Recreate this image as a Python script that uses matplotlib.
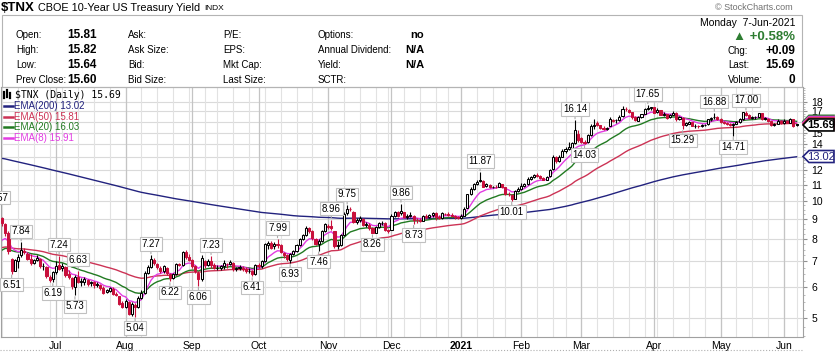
import matplotlib
matplotlib.use("Agg")
import matplotlib.pyplot as plt
import matplotlib.transforms as mtrans
from matplotlib.patches import Polygon, Rectangle
from matplotlib.lines import Line2D
import numpy as np
import pandas as pd

plt.rcParams['font.family'] = ['Liberation Sans', 'DejaVu Sans']

# ---- data: $TNX daily candles, 5-Jun-2020 .. 7-Jun-2021 ----
holidays = ['2020-07-03', '2020-09-07', '2020-11-26', '2020-12-25', '2021-01-01',
            '2021-01-18', '2021-02-15', '2021-04-02', '2021-05-31']
dates = pd.bdate_range('2020-06-05', '2021-06-07', freq='C', holidays=holidays)

opens = [
    8.60, 9.05, 8.75, 8.30, 7.10, 6.62, 7.00, 7.25, 7.45, 7.30, 7.10, 6.95, 7.05, 7.10, 6.80, 6.78, 6.40, 6.30,  # Jun
    6.57, 6.85, 6.72, 6.78, 6.50, 6.35, 6.00, 6.40, 6.20, 6.20, 6.28, 6.15, 6.18, 6.10, 6.08, 5.98, 5.85, 5.88, 5.96, 5.78, 5.70, 5.48,  # Jul
    5.35, 5.52, 5.12, 5.42, 5.35, 5.65, 5.80, 6.55, 6.78, 7.08, 6.90, 6.75, 6.60, 6.75, 6.50, 6.35, 6.48, 6.88, 6.85, 7.40, 7.20,  # Aug
    7.05, 6.80, 6.55, 6.30, 7.00, 6.85, 7.00, 6.85, 6.72, 6.75, 6.80, 6.90, 6.88, 6.95, 6.70, 6.72, 6.75, 6.70, 6.60, 6.60, 6.50,  # Sep
    6.85, 6.80, 7.00, 7.70, 7.82, 7.65, 7.75, 7.70, 7.35, 7.25, 7.05, 7.30, 7.45, 7.70, 8.00, 8.18, 8.55, 8.40, 8.00, 7.78, 7.90, 8.40,  # Oct
    8.65, 8.62, 8.40, 7.65, 7.70, 8.20, 9.30, 9.55, 9.40, 8.85, 8.95, 9.00, 8.70, 8.70, 8.55, 8.30, 8.60, 8.78, 8.80, 8.45,  # Nov
    8.45, 9.15, 9.35, 9.30, 9.35, 9.10, 9.18, 9.15, 8.95, 8.92, 8.90, 9.15, 9.10, 9.20, 9.30, 9.10, 9.05, 9.28, 9.25, 9.20, 9.18, 9.08,  # Dec
    9.05, 9.18, 9.60, 10.40, 10.75, 11.05, 11.35, 11.25, 10.95, 11.00, 10.85, 10.90, 10.88, 11.05, 10.85, 10.45, 10.38, 10.15, 10.62,  # Jan
    10.75, 10.95, 11.05, 11.40, 11.52, 11.65, 11.60, 11.45, 11.35, 11.60, 12.10, 13.00, 12.70, 13.00, 13.45, 13.65, 13.70, 14.10, 14.90,  # Feb
    14.50, 14.15, 14.15, 14.75, 15.60, 15.90, 15.65, 15.40, 15.30, 15.60, 16.10, 16.15, 16.20, 16.50, 17.25, 17.15, 16.90, 16.40, 16.10, 16.40, 16.75, 17.25, 17.30,  # Mar
    17.40, 16.90, 17.10, 16.65, 16.70, 16.40, 16.65, 16.85, 16.25, 16.35, 15.70, 15.80, 15.95, 15.60, 15.60, 15.55, 15.65, 15.75, 16.25, 16.40, 16.45,  # Apr
    16.30, 15.95, 15.90, 15.75, 15.70, 15.80, 15.95, 16.25, 16.85, 16.60, 16.35, 16.40, 16.45, 16.80, 16.30, 16.30, 16.05, 15.65, 15.80, 16.10,  # May
    15.85, 16.10, 15.90, 16.25, 15.81,  # Jun
]
highs = [
    9.57, 9.10, 8.80, 8.40, 7.15, 7.10, 7.30, 7.84, 7.60, 7.40, 7.30, 7.12, 7.25, 7.15, 6.92, 6.80, 6.45, 6.62,
    7.00, 7.24, 6.95, 6.80, 6.65, 6.40, 6.45, 6.63, 6.35, 6.40, 6.32, 6.25, 6.22, 6.20, 6.12, 6.05, 5.95, 6.02, 6.00, 5.85, 5.72, 5.55,
    5.62, 5.55, 5.50, 5.48, 5.70, 5.90, 6.60, 6.85, 7.27, 7.15, 6.95, 6.80, 6.85, 6.78, 6.55, 6.55, 6.95, 6.95, 7.45, 7.50, 7.30,
    7.10, 6.85, 6.60, 7.25, 7.05, 7.10, 7.23, 6.95, 6.85, 6.85, 7.05, 6.95, 7.05, 6.98, 6.78, 6.85, 6.82, 6.78, 6.72, 6.65, 6.90,
    6.95, 7.05, 7.80, 7.90, 7.92, 7.85, 7.99, 7.75, 7.40, 7.30, 7.35, 7.50, 7.75, 8.05, 8.25, 8.65, 8.60, 8.45, 8.05, 8.00, 8.45, 8.80,
    8.75, 8.96, 8.40, 7.90, 8.25, 9.35, 9.75, 9.65, 9.45, 9.05, 9.15, 9.05, 8.85, 8.78, 8.60, 8.65, 8.85, 8.90, 8.82, 8.50,
    9.25, 9.45, 9.45, 9.86, 9.38, 9.28, 9.35, 9.20, 9.05, 9.05, 9.20, 9.25, 9.25, 9.35, 9.40, 9.20, 9.35, 9.32, 9.35, 9.30, 9.22, 9.15,
    9.25, 9.65, 10.45, 10.85, 11.10, 11.35, 11.87, 11.30, 11.15, 11.05, 10.95, 10.98, 11.20, 11.08, 10.90, 10.55, 10.45, 10.70, 10.90,
    11.10, 11.15, 11.50, 11.60, 11.75, 11.80, 11.70, 11.55, 11.60, 12.10, 13.10, 13.05, 13.10, 13.60, 13.80, 14.20, 14.20, 16.14, 15.25,
    14.65, 14.35, 14.85, 15.75, 16.25, 16.05, 15.70, 15.55, 15.50, 16.40, 16.25, 16.30, 16.60, 17.55, 17.45, 17.20, 16.95, 16.50, 16.55, 16.75, 17.35, 17.65, 17.50,
    17.45, 17.30, 17.15, 16.95, 16.75, 16.75, 17.05, 16.90, 16.55, 16.40, 15.95, 16.10, 16.00, 15.75, 15.70, 15.75, 15.80, 16.30, 16.45, 16.88, 16.55,
    16.35, 16.05, 15.95, 15.85, 15.85, 16.05, 16.35, 16.95, 17.00, 16.70, 16.50, 16.55, 16.85, 16.85, 16.40, 16.35, 16.10, 15.85, 16.25, 16.20,
    16.30, 16.15, 16.35, 16.30, 15.82,
]
lows = [
    8.55, 8.62, 8.15, 7.30, 6.51, 6.60, 6.75, 7.20, 7.30, 7.05, 6.85, 6.88, 7.00, 6.75, 6.65, 6.35, 6.20, 6.19,
    6.50, 6.65, 6.62, 6.38, 6.30, 5.95, 5.73, 6.15, 6.05, 6.10, 6.05, 6.05, 5.98, 6.00, 5.90, 5.78, 5.80, 5.85, 5.75, 5.70, 5.40, 5.30,
    5.30, 5.10, 5.08, 5.04, 5.30, 5.60, 5.78, 6.50, 6.75, 6.85, 6.70, 6.55, 6.55, 6.45, 6.22, 6.30, 6.45, 6.80, 6.80, 7.10, 7.00,
    6.75, 6.55, 6.06, 6.25, 6.75, 6.80, 6.75, 6.70, 6.65, 6.65, 6.70, 6.75, 6.85, 6.60, 6.60, 6.65, 6.60, 6.55, 6.55, 6.41, 6.45,
    6.75, 6.75, 6.98, 7.55, 7.55, 7.55, 7.60, 7.35, 7.15, 7.00, 6.93, 7.25, 7.40, 7.65, 7.95, 8.15, 8.30, 7.95, 7.70, 7.46, 7.85, 8.35,
    8.50, 8.45, 7.60, 7.55, 7.65, 8.15, 9.20, 9.45, 8.80, 8.75, 8.85, 8.65, 8.60, 8.45, 8.26, 8.28, 8.55, 8.70, 8.40, 8.30,
    8.42, 9.10, 9.10, 9.20, 9.05, 9.02, 9.10, 8.73, 8.80, 8.85, 8.88, 9.00, 9.05, 9.10, 8.95, 9.00, 9.00, 9.22, 9.15, 9.10, 9.02, 8.98,
    9.00, 9.15, 9.58, 10.35, 10.70, 11.00, 11.20, 10.85, 10.85, 10.80, 10.80, 10.78, 10.85, 10.80, 10.35, 10.30, 10.01, 10.10, 10.55,
    10.70, 10.90, 11.00, 11.35, 11.45, 11.50, 11.40, 11.30, 11.30, 11.55, 12.05, 12.55, 12.60, 12.95, 13.30, 13.50, 13.40, 14.00, 14.20,
    14.10, 14.03, 14.10, 14.70, 15.30, 15.55, 15.30, 15.25, 15.25, 15.55, 15.95, 15.90, 16.05, 16.45, 17.05, 16.80, 16.30, 16.10, 16.05, 16.35, 16.70, 17.10, 17.10,
    16.80, 16.85, 16.60, 16.50, 16.25, 16.35, 16.60, 16.10, 16.20, 15.29, 15.60, 15.75, 15.55, 15.45, 15.45, 15.50, 15.55, 15.70, 16.05, 16.30, 16.20,
    15.90, 15.80, 15.70, 15.60, 14.71, 15.75, 15.90, 16.20, 16.55, 16.30, 16.30, 16.30, 16.40, 16.20, 16.20, 15.95, 15.60, 15.60, 15.75, 15.80,
    15.80, 15.85, 15.85, 15.50, 15.64,
]
closes = [
    9.05, 8.80, 8.27, 7.43, 6.62, 7.05, 7.18, 7.50, 7.38, 7.09, 6.95, 7.06, 7.15, 6.81, 6.81, 6.41, 6.28, 6.56,
    6.80, 6.70, 6.82, 6.45, 6.40, 6.05, 6.40, 6.20, 6.22, 6.30, 6.12, 6.20, 6.08, 6.10, 5.98, 5.82, 5.90, 5.98, 5.78, 5.75, 5.45, 5.35,
    5.55, 5.12, 5.45, 5.35, 5.65, 5.80, 6.55, 6.78, 7.10, 6.92, 6.78, 6.60, 6.80, 6.52, 6.35, 6.48, 6.88, 6.85, 7.40, 7.20, 7.05,
    6.80, 6.60, 6.30, 7.15, 6.85, 7.00, 6.85, 6.72, 6.75, 6.80, 6.95, 6.88, 6.98, 6.70, 6.72, 6.78, 6.70, 6.60, 6.62, 6.48, 6.85,
    6.80, 7.00, 7.75, 7.82, 7.60, 7.75, 7.72, 7.40, 7.25, 7.10, 7.30, 7.45, 7.70, 8.00, 8.18, 8.55, 8.40, 8.02, 7.78, 7.90, 8.40, 8.75,
    8.60, 8.55, 7.65, 7.70, 8.18, 9.25, 9.55, 9.52, 8.85, 8.95, 9.05, 8.70, 8.72, 8.55, 8.30, 8.60, 8.78, 8.80, 8.45, 8.40,
    9.18, 9.38, 9.15, 9.42, 9.10, 9.18, 9.22, 8.95, 8.92, 8.90, 9.15, 9.10, 9.20, 9.30, 9.10, 9.05, 9.30, 9.25, 9.20, 9.18, 9.08, 9.05,
    9.18, 9.55, 10.40, 10.75, 11.05, 11.22, 11.28, 10.90, 11.05, 10.85, 10.90, 10.88, 11.10, 10.85, 10.45, 10.40, 10.12, 10.62, 10.75,
    10.95, 11.05, 11.40, 11.52, 11.65, 11.60, 11.45, 11.35, 11.55, 12.00, 13.00, 12.70, 13.00, 13.45, 13.65, 13.75, 14.10, 15.20, 14.35,
    14.20, 14.10, 14.75, 15.60, 15.70, 15.65, 15.40, 15.35, 15.45, 16.30, 16.15, 16.20, 16.45, 17.25, 17.20, 16.90, 16.40, 16.15, 16.40, 16.70, 17.20, 17.30, 17.40,
    16.85, 17.15, 16.65, 16.70, 16.35, 16.65, 16.85, 16.25, 16.40, 15.70, 15.85, 15.95, 15.60, 15.60, 15.55, 15.65, 15.70, 16.25, 16.35, 16.45, 16.30,
    15.95, 15.90, 15.75, 15.70, 15.80, 15.95, 16.25, 16.90, 16.60, 16.35, 16.40, 16.45, 16.80, 16.30, 16.30, 16.05, 15.65, 15.80, 16.10, 15.85,
    16.10, 15.90, 16.25, 15.60, 15.69,
]

# EMA periods, their starting values and colours
ema_periods = [200, 50, 20, 8]
ema_start = [12.92, 7.55, 7.35, 7.70]
ema_colors = ['#22227e', '#cc3355', '#217a21', '#e23ce2']
ema_legend = ['EMA(200) 13.02', 'EMA(50) 15.81', 'EMA(20) 16.03', 'EMA(8) 15.91']

# swing labels (candle indices)
high_labels = [0, 7, 19, 25, 48, 67, 88, 105, 110, 127, 152, 182, 205, 226, 236]
low_labels = [4, 17, 24, 43, 54, 63, 80, 92, 101, 118, 131, 162, 185, 216, 232]

y_ticks = list(range(5, 19))
y_hidden = [13, 16]  # sit under the price tags
month_names = {7: 'Jul', 8: 'Aug', 9: 'Sep', 10: 'Oct', 11: 'Nov', 12: 'Dec',
               1: '2021', 2: 'Feb', 3: 'Mar', 4: 'Apr', 5: 'May', 6: 'Jun'}

RED = '#c8103c'
GREEN = '#2e7d32'

W, H = 836, 353
fig = plt.figure(figsize=(W / 100, H / 100), dpi=100)
fig.patch.set_facecolor('white')


def fx(px):
    return px / W


def fy(py):
    return 1 - py / H


# ---- main price axes ----
a_l, a_r, a_t, a_b = 1, 803, 87, 337
px_day = 3.165
ax = fig.add_axes([fx(a_l), fy(a_b), (a_r - a_l) / W, (a_b - a_t) / H])
ax.set_yscale('log')
ax.set_xlim((a_l + 1) / px_day, (a_r + 1) / px_day)
ax.set_ylim(4.477, 19.64)

n = len(closes)
xs = np.arange(n)
o, h, l, c = (np.array(v) for v in (opens, highs, lows, closes))

# grid
for yv in y_ticks:
    ax.axhline(yv, color='#dadada', lw=0.8, zorder=0)
week_starts = [i for i in range(1, n) if dates[i].weekday() < dates[i - 1].weekday()]
month_starts = [i for i in range(1, n) if dates[i].month != dates[i - 1].month]
for i in week_starts:
    ax.axvline(i, color='#e2e2e2', lw=0.8, zorder=0)
for i in month_starts:
    ax.axvline(i, color='#c4c4c4', lw=0.9, zorder=0)

# EMAs
for per, s0, col in zip(ema_periods, ema_start, ema_colors):
    k = 2.0 / (per + 1)
    e = [s0]
    for v in c[1:]:
        e.append(e[-1] + k * (v - e[-1]))
    ax.plot(xs, e, color=col, lw=1.0, zorder=2)

# candles
prev = np.r_[np.inf, c[:-1]]
cols = np.where(c >= prev, 'black', RED)
ax.vlines(xs, l, h, colors=cols, lw=0.8, zorder=3)
body_bottom = np.minimum(o, c)
body_h = np.maximum(np.abs(c - o), 0.012)
faces = np.where(c > o, 'white', cols)
ax.bar(xs, body_h, bottom=body_bottom, width=0.66, color=list(faces),
       edgecolor=list(cols), linewidth=0.75, zorder=4)

# swing labels
lab_kw = dict(textcoords='offset pixels', ha='center', va='center', fontsize=7,
              annotation_clip=False, zorder=6,
              bbox=dict(boxstyle='square,pad=0.18', fc='white', ec='#c0c0c0', lw=0.8),
              arrowprops=dict(arrowstyle='-', color='#a8a8a8', lw=0.8, shrinkA=0, shrinkB=1))
for i in high_labels:
    ax.annotate(f'{h[i]:.2f}', xy=(i, h[i]), xytext=(0, 11), **lab_kw)
for i in low_labels:
    ax.annotate(f'{l[i]:.2f}', xy=(i, l[i]), xytext=(0, -11), **lab_kw)

# axes styling
for sp in ax.spines.values():
    sp.set_color('#a0a0a0')
    sp.set_linewidth(0.8)
ax.yaxis.tick_right()
ax.set_yticks(y_ticks)
ax.set_yticklabels(['' if v in y_hidden else str(v) for v in y_ticks])
ax.yaxis.set_minor_locator(matplotlib.ticker.FixedLocator(np.arange(4.5, 19.6, 0.25)))
ax.yaxis.set_minor_formatter(matplotlib.ticker.NullFormatter())
ax.tick_params(axis='y', which='major', length=3, pad=3, labelsize=7.5, color='#909090')
ax.tick_params(axis='y', which='minor', length=1.5, color='#b0b0b0')
ax.set_xticks(month_starts)
ax.set_xticklabels([month_names[dates[i].month] for i in month_starts])
ax.tick_params(axis='x', length=0, pad=3, labelsize=7.5)
for t, i in zip(ax.get_xticklabels(), month_starts):
    if dates[i].month == 1:
        t.set_fontweight('bold')

# legend block (top-left in chart)
fig.text(fx(15), fy(94.5), '$TNX (Daily) 15.69', family='DejaVu Sans Mono',
         fontsize=7, va='center', ha='left')
for dx, y0, y1 in [(4, 92, 98), (7, 90, 97), (10, 93, 98)]:
    fig.add_artist(Line2D([fx(dx), fx(dx)], [fy(y0), fy(y1)], color='black', lw=1.6))
for k, (txt, col) in enumerate(zip(ema_legend, ema_colors)):
    yc = 105.7 + k * 10.8
    fig.add_artist(Line2D([fx(4), fx(13)], [fy(yc), fy(yc)], color=col, lw=1.8))
    fig.text(fx(14.5), fy(yc), txt, color=col, fontsize=7, va='center', ha='left')

# price tags on the right axis
ident = mtrans.IdentityTransform()
xd = ax.transAxes.transform((1, 0))[0]


def price_tag(val, ec, txt=None, tc='black', bold=False):
    yd = ax.transData.transform((1, val))[1]
    verts = [(xd, yd), (xd + 6, yd + 6), (xd + 31, yd + 6), (xd + 31, yd - 6), (xd + 6, yd - 6)]
    fig.add_artist(Polygon(verts, closed=True, fc='white', ec=ec, lw=1.2, transform=ident))
    if txt:
        fig.text(xd + 18.5, yd, txt, color=tc, fontsize=8, ha='center', va='center',
                 fontweight='bold' if bold else 'normal', transform=ident)


# EMA tags sit behind the last-price tag
price_tag(16.03, GREEN)
price_tag(15.91, '#e23ce2')
price_tag(15.81, '#cc3355')
price_tag(15.69, 'black', '15.69', 'black', bold=True)
price_tag(13.02, '#22227e', '13.02', '#22227e')

# dotted rule under the date labels
fig.add_artist(Line2D([fx(0), fx(803)], [fy(350), fy(350)], color='#b0b0b0', lw=0.8, ls=':'))

# ---- header ----
fig.text(fx(1), fy(8), '$TNX', fontsize=9.5, fontweight='bold', va='center', ha='left')
fig.text(fx(38), fy(8), 'CBOE 10-Year US Treasury Yield', fontsize=7.8, va='center', ha='left')
fig.text(fx(204), fy(8.5), 'INDX', fontsize=6, va='center', ha='left')
fig.text(fx(793), fy(7), '\u00a9 StockCharts.com', fontsize=6.5, color='#707070',
         va='center', ha='right')
fig.add_artist(Rectangle((fx(1.5), fy(87)), fx(802) - fx(1.5), fy(15) - fy(87),
                         fill=False, ec='#b4b4b4', lw=0.8))

rows_y = [35, 50, 65, 80]
col1 = ['Open:', 'High:', 'Low:', 'Prev Close:']
col1_vals = ['15.81', '15.82', '15.64', '15.60']
col2 = ['Ask:', 'Ask Size:', 'Bid:', 'Bid Size:']
col3 = ['P/E:', 'EPS:', 'Mkt Cap:', 'Last Size:']
col4 = ['Options:', 'Annual Dividend:', 'Yield:', 'SCTR:']
col4_vals = ['no', 'N/A', 'N/A', '']
for k, yy in enumerate(rows_y):
    fig.text(fx(16), fy(yy), col1[k], fontsize=7, va='center')
    fig.text(fx(67), fy(yy), col1_vals[k], fontsize=8.5, fontweight='bold', va='center')
    fig.text(fx(128), fy(yy), col2[k], fontsize=7, va='center')
    fig.text(fx(223), fy(yy), col3[k], fontsize=7, va='center')
    fig.text(fx(318), fy(yy), col4[k], fontsize=7, va='center')
    fig.text(fx(424), fy(yy), col4_vals[k], fontsize=8, fontweight='bold', va='center', ha='right')

fig.text(fx(795), fy(23), 'Monday  7-Jun-2021', fontsize=7.5, va='center', ha='right')
fig.text(fx(795), fy(36.5), '\u25b2 +0.58%', fontsize=9.5, fontweight='bold', color=GREEN,
         va='center', ha='right')
right_lab = ['Chg:', 'Last:', 'Volume:']
right_val = ['+0.09', '15.69', '0']
for k, yy in enumerate([51, 65, 80]):
    fig.text(fx(728), fy(yy), right_lab[k], fontsize=7, va='center')
    fig.text(fx(795), fy(yy), right_val[k], fontsize=8.5, fontweight='bold', va='center', ha='right')

fig.savefig('out.png', dpi=100, facecolor='white')
